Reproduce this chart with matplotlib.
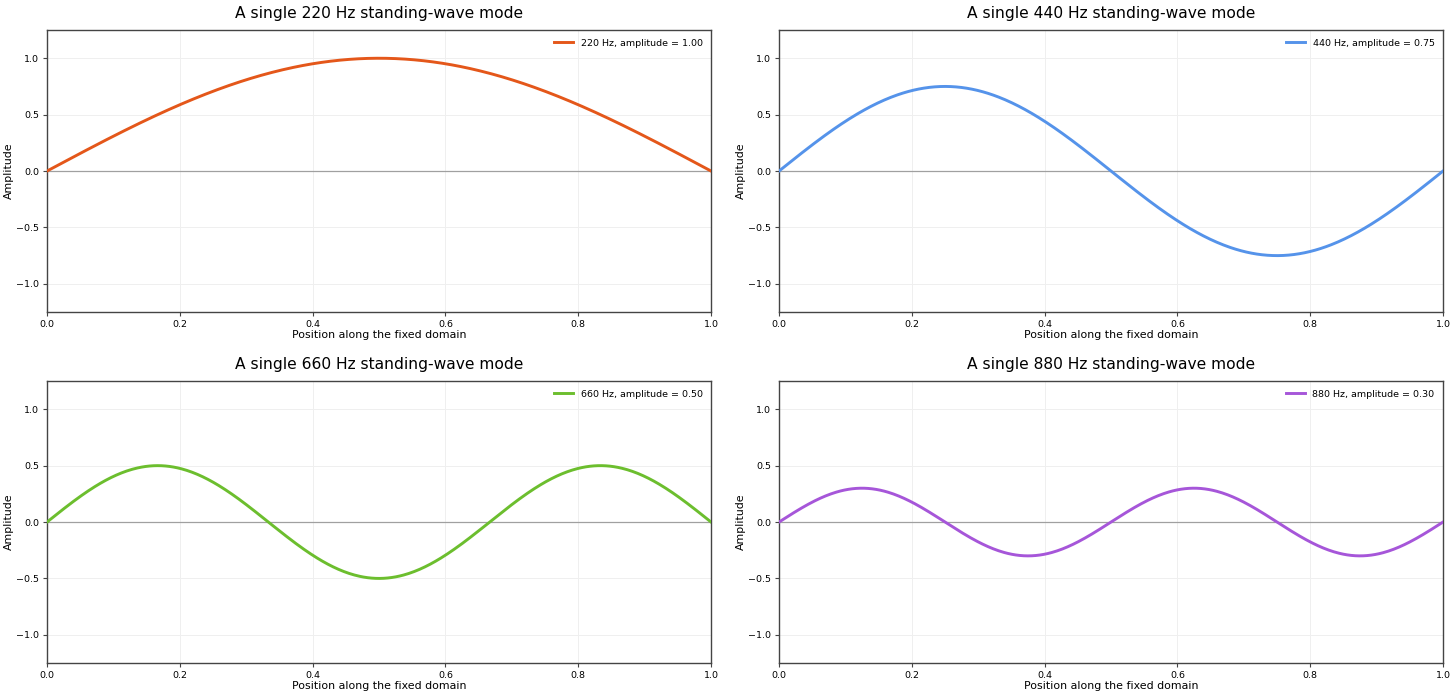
import numpy as np
import matplotlib
matplotlib.use("Agg")
import matplotlib.pyplot as plt

# modos de onda estacionaria
freqs = [220, 440, 660, 880]
modes = [1, 2, 3, 4]
amps = [1.00, 0.75, 0.50, 0.30]
colors = ["#E4571A", "#5593EA", "#6CBE2E", "#A656D9"]

x = np.linspace(0, 1, 500)

fig, axes = plt.subplots(2, 2, figsize=(14.56, 6.99), dpi=100)
fig.subplots_adjust(left=0.0323, right=0.9911, top=0.957, bottom=0.0515,
                    wspace=0.1024, hspace=0.245)

for ax, f, n, a, c in zip(axes.flat, freqs, modes, amps, colors):
    y = a * np.sin(n * np.pi * x)
    ax.grid(True, color="#efefef", lw=0.7, zorder=0)
    ax.axhline(0, color="#a0a0a0", lw=0.9, zorder=2)
    ax.plot(x, y, color=c, lw=2.1, label=f"{f} Hz, amplitude = {a:.2f}", zorder=3)
    ax.set_xlim(0, 1)
    ax.set_ylim(-1.25, 1.25)
    ax.set_title(f"A single {f} Hz standing-wave mode", fontsize=11.2, pad=9)
    ax.set_xlabel("Position along the fixed domain", fontsize=7.9, labelpad=1)
    ax.set_ylabel("Amplitude", fontsize=7.9, labelpad=2)
    ax.tick_params(labelsize=6.8, length=3, pad=2.5, color="#444444")
    for s in ax.spines.values():
        s.set_color("#444444")
        s.set_linewidth(1.0)
    ax.legend(loc="upper right", frameon=False, fontsize=6.8)

fig.savefig("out.png", dpi=100)
